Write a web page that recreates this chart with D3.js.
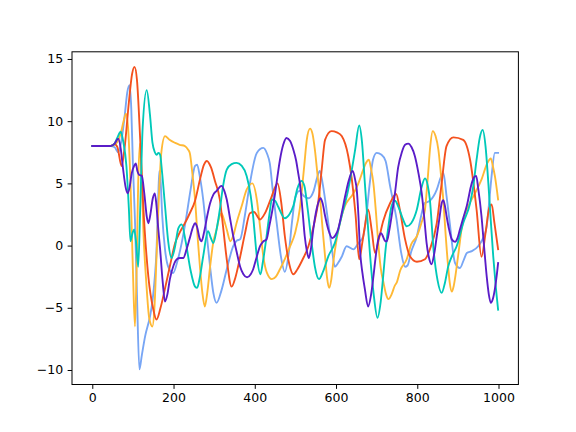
<!DOCTYPE html>
<html>
<head>
<meta charset="utf-8">
<script src="https://cdn.jsdelivr.net/npm/d3@7"></script>
<style>
  body { margin: 0; background: #fff; }
  svg { display: block; }
  .tick text { font-family: "DejaVu Sans", sans-serif; font-size: 12.5px; fill: #000; }
</style>
</head>
<body>
<div id="chart"></div>
<script>
// series, [x, y] pairs
const redSeries = [[0,8],[45,8],[55,8.15],[62,7.9],[72,6.4],[80,8],[90,11.5],[98,13.8],[104,14.36],[110,13.3],[118,8.5],[125,3.5],[138,-2.5],[150,-5.1],[158,-5.95],[168,-5.0],[180,-3.3],[192,-1.5],[204,0.2],[216,1.1],[228,1.8],[240,2.6],[253,3.6],[265,5.3],[275,6.5],[282,6.8],[292,6.3],[302,5.2],[314,3.7],[322,1.5],[331,-1.1],[343,-3.3],[352,-2.6],[364,-0.9],[376,1.0],[388,2.6],[398,2.7],[413,2.1],[425,2.6],[440,3.8],[456,5.0],[465,3.5],[474,0.75],[485,-1.5],[495,-2.3],[505,-1.9],[518,-1.1],[532,-0.05],[545,1.6],[557,3.7],[565,6.2],[573,8.5],[589,9.2],[602,9.1],[614,8.8],[630,7.2],[639,5.3],[648,2.5],[657,-1.1],[665,0.3],[671,1.55],[679,2.9],[688,1.2],[696,-0.6],[706,0.6],[716,1.95],[733,3.4],[748,4.15],[757,2.9],[770,0.5],[782,-0.86],[799,-1.3],[819,-1.1],[831,-0.3],[848,1.8],[860,5],[872,8],[889,8.7],[913,8.5],[930,6.9],[946,2.9],[958,-0.9],[968,1.0],[977,3.0],[983,3.3],[990,1.8],[999,-0.3]];

const tealSeries = [[0,8],[45,8],[55,8.2],[62,8.7],[70,9.15],[76,8.4],[84,6.4],[90,3.0],[94,0.35],[99,1.0],[103,1.3],[108,0.2],[113,-1.7],[118,3],[124,9.5],[134,12.5],[142,10.5],[148,8.3],[154,7.5],[158,7.3],[163,7.45],[167,7.3],[172,5.8],[179,3.2],[187,0.3],[195,-1.0],[203,-0.2],[212,1.4],[220,1.7],[230,0.3],[242,-2],[253,-3.3],[258,-3.4],[265,-2.5],[273,-0.86],[285,1.15],[292,0.6],[298,0.2],[306,1.3],[314,2.9],[322,4.8],[331,6.1],[343,6.55],[355,6.65],[368,6.4],[380,5.6],[390,4.0],[396,2.35],[405,-0.86],[414,-2.3],[420,-1.3],[429,0.75],[436,2.5],[442,3.7],[450,3.6],[458,3.1],[474,2.2],[485,2.5],[495,3.2],[505,4.6],[515,5.2],[522,4.8],[530,3.0],[540,0.2],[548,-1.7],[558,-2.7],[568,-2.1],[581,-0.86],[597,0.2],[614,2.4],[630,4.5],[640,6.3],[647,7.7],[657,9.65],[664,8.3],[671,5.0],[678,1.8],[684,-0.86],[693,-4],[702,-5.8],[710,-4.5],[716,-2.5],[722,-0.3],[729,1.55],[737,3.2],[745,3.6],[755,3.0],[765,2.1],[774,1.55],[785,1.8],[799,2.9],[810,4.6],[819,5.4],[826,4.8],[831,3.7],[840,-0.3],[850,-2.8],[860,-3.8],[868,-3.0],[876,-1.7],[886,-0.8],[897,-0.05],[913,1.8],[930,3.4],[938,4.8],[946,6.9],[954,8.7],[961,9.3],[968,8.0],[975,5.0],[981,2.0],[987,-0.86],[993,-3.2],[999,-5.15]];

const yellowSeries = [[0,8],[45,8],[55,8.1],[63,8.4],[70,9.0],[77,10.0],[83,10.6],[88,9.5],[94,5],[100,-2],[105,-6.5],[109,-2],[113,5],[117,8.2],[121,6],[126,1],[133,-3],[140,-5.8],[148,-6.5],[153,-5],[158,-1],[164,4],[170,7.5],[179,8.8],[190,8.5],[204,8.25],[215,8.1],[228,8.0],[236,7.7],[240,7.45],[247,5.6],[253,3.7],[259,0.8],[265,-1.7],[271,-3.8],[277,-4.9],[283,-3.8],[290,-1.7],[298,0.3],[306,1.3],[312,2.2],[318,2.6],[324,2.1],[331,1.3],[340,0.35],[348,0.9],[355,1.8],[368,3.2],[380,4.5],[394,5.0],[405,3.7],[413,1.5],[421,-0.86],[430,-2.2],[442,-2.7],[452,-2.5],[462,-1.9],[475,-1.0],[487,-0.05],[499,1.0],[511,3.0],[516,4.5],[522,6.5],[528,8.5],[536,9.4],[542,9.0],[548,7.7],[555,5.5],[561,3.7],[567,1.3],[573,-0.86],[578,-2.6],[583,-3.4],[588,-2.8],[593,-1.4],[600,0.2],[606,1.3],[614,2.4],[622,3.2],[634,3.8],[639,4.0],[655,5.0],[667,6.1],[673,6.6],[681,6.9],[686,6.2],[692,5.0],[698,2.8],[704,0.2],[710,-1.8],[717,-3.0],[723,-3.9],[729,-4.3],[737,-3.9],[745,-3.2],[749,-3.0],[758,-2.0],[774,-1.1],[785,0.1],[799,0.75],[810,1.8],[819,2.9],[826,5.5],[832,8.0],[838,9.2],[845,8.8],[852,7.7],[858,5.8],[864,3.7],[870,0.8],[876,-1.7],[880,-3.0],[885,-3.7],[890,-3.2],[897,-1.7],[903,-0.2],[909,1.3],[917,2.5],[926,3.2],[942,4.2],[958,5.3],[972,6.6],[981,7.0],[986,6.4],[991,5.6],[999,3.7]];

const blueSeries = [[0,8],[45,8],[55,7.9],[64,7.5],[72,8.5],[80,10.5],[86,12.3],[92,12.9],[96,11],[100,6.5],[105,2.1],[110,-4],[116,-9.95],[122,-8.8],[130,-7.3],[142,-5.7],[148,-4.5],[154,-2.5],[158,-0.5],[162,3.5],[165,6.0],[168,5.3],[172,2.5],[179,-0.3],[188,-1.8],[199,-2.2],[210,-1.2],[220,0.2],[230,2.0],[242,4.5],[253,6.4],[258,6.5],[265,5.5],[273,3.7],[282,0.8],[290,-1.7],[298,-3.8],[306,-4.6],[318,-3.6],[331,-1.9],[347,-0.05],[356,0.4],[364,0.5],[376,2.5],[388,5.0],[405,7.45],[421,7.85],[430,7.4],[437,6.6],[445,4.2],[454,1.8],[464,-0.8],[474,-2.1],[484,-0.5],[492,2.0],[500,3.9],[510,4.4],[520,4.0],[532,3.8],[545,4.4],[553,5.4],[560,6.0],[567,5.0],[574,3.5],[581,1.8],[590,-0.3],[597,-1.7],[605,-1.4],[614,-0.9],[626,-0.05],[643,-0.3],[655,0.2],[667,0.75],[675,2.5],[683,5.0],[691,6.9],[700,7.45],[712,7.3],[722,6.8],[733,4.8],[749,2.1],[760,-0.5],[770,-1.7],[776,-1.6],[785,-0.5],[799,0.75],[811,2.6],[818,3.4],[831,3.6],[848,4.5],[858,5.5],[864,5.85],[872,4.0],[880,1.8],[893,-1.4],[905,-1.8],[915,-1.1],[922,-0.6],[934,-0.45],[950,-0.05],[962,0.6],[971,1.55],[977,3.5],[983,5.6],[991,7.45],[999,7.45]];

const purpleSeries = [[0,8],[45,8],[55,8.2],[64,8.6],[70,7.8],[76,6.1],[82,4.7],[87,4.2],[92,4.7],[97,5.8],[103,6.4],[107,6.6],[111,6.0],[115,5.7],[119,5.65],[122,5.6],[128,4.2],[134,2.35],[138,1.8],[143,2.5],[149,3.8],[154,4.2],[158,3.2],[162,1.5],[167,-0.3],[173,-2.8],[179,-4.5],[185,-3.9],[191,-2.7],[200,-1.6],[208,-1.1],[216,-1.0],[224,-1.0],[232,-0.3],[240,0.6],[248,1.5],[253,1.8],[258,1.5],[264,0.6],[269,0.35],[276,1.2],[283,2.4],[290,3.4],[298,4.1],[306,4.4],[318,4.8],[325,4.4],[331,3.7],[339,2.2],[347,0.75],[356,-0.6],[364,-1.7],[372,-2.3],[381,-2.55],[390,-2.3],[396,-1.9],[404,-1.0],[413,-0.05],[420,0.3],[429,0.5],[436,1.6],[443,2.8],[450,4.2],[456,5.6],[462,6.9],[470,8.1],[478,8.65],[487,8.4],[495,7.7],[502,6.8],[507,5.8],[511,5.0],[517,3.0],[523,0.75],[528,-0.4],[533,-1.0],[538,-0.3],[544,1.3],[552,2.9],[557,3.5],[562,3.8],[567,3.4],[573,2.4],[581,1.3],[591,0.6],[598,0.8],[605,1.3],[614,2.6],[622,3.9],[631,5.2],[641,6.0],[647,5.3],[651,4.5],[655,2.5],[659,-0.3],[665,-2.2],[671,-3.5],[679,-4.9],[686,-4.0],[692,-2.5],[698,-0.8],[704,0.5],[708,0.9],[711,1.0],[716,0.7],[721,0.35],[725,0.35],[731,1.2],[737,2.4],[745,4.2],[753,6.3],[762,7.5],[770,8.1],[778,8.2],[786,7.9],[794,7.2],[803,5.8],[811,4.2],[817,2.3],[823,0.2],[829,-1.0],[835,-1.5],[842,-0.6],[848,0.75],[855,2.3],[860,3.4],[864,3.65],[868,3.2],[872,2.4],[879,1.2],[885,0.5],[893,0.3],[899,0.6],[905,1.3],[913,2.2],[922,3.2],[934,5.0],[940,5.5],[945,5.6],[950,4.6],[958,2.4],[964,0.1],[971,-2.5],[976,-3.9],[981,-4.6],[986,-4.3],[991,-3.5],[996,-2.3],[999,-1.4]];

const xTicks = [0, 200, 400, 600, 800, 1000];
const yTicks = [-10, -5, 0, 5, 10, 15];

// drawing order, last one on top
const series = [
  { data: blueSeries, color: "#78a6f5" },
  { data: yellowSeries, color: "#ffb935" },
  { data: redSeries, color: "#f4511e" },
  { data: tealSeries, color: "#00c9b9" },
  { data: purpleSeries, color: "#5a1cc8" }
];

const width = 576, height = 432;
const margin = { top: 51.8, right: 57.6, bottom: 47.5, left: 72 };
const tick = 4.375; // 3.5pt at 90 dpi

const svg = d3.select("#chart").append("svg")
  .attr("width", width)
  .attr("height", height);

svg.append("rect").attr("width", width).attr("height", height).attr("fill", "#fff");

// matplotlib style 5% padding on the data range
const allPts = series.flatMap(s => s.data);
const xExt = d3.extent(allPts, d => d[0]);
const yExt = d3.extent(allPts, d => d[1]);
const xPad = (xExt[1] - xExt[0]) * 0.05;
const yPad = (yExt[1] - yExt[0]) * 0.05;

const x = d3.scaleLinear()
  .domain([xExt[0] - xPad, xExt[1] + xPad])
  .range([margin.left, width - margin.right]);

const y = d3.scaleLinear()
  .domain([yExt[0] - yPad, yExt[1] + yPad])
  .range([height - margin.bottom, margin.top]);

svg.append("defs").append("clipPath").attr("id", "clip")
  .append("rect")
  .attr("x", margin.left).attr("y", margin.top)
  .attr("width", width - margin.left - margin.right)
  .attr("height", height - margin.top - margin.bottom);

const line = d3.line()
  .x(d => x(d[0]))
  .y(d => y(d[1]))
  .curve(d3.curveMonotoneX);

svg.append("g").attr("clip-path", "url(#clip)")
  .selectAll("path")
  .data(series)
  .enter()
  .append("path")
  .attr("d", d => line(d.data))
  .attr("fill", "none")
  .attr("stroke", d => d.color)
  .attr("stroke-width", 1.875)
  .attr("stroke-linejoin", "round")
  .attr("stroke-linecap", "square");

// axes
const xAxis = svg.append("g")
  .attr("transform", "translate(0," + (height - margin.bottom) + ")")
  .call(d3.axisBottom(x).tickValues(xTicks).tickFormat(d3.format("d"))
    .tickSize(tick).tickPadding(tick).tickSizeOuter(0));

const yAxis = svg.append("g")
  .attr("transform", "translate(" + margin.left + ",0)")
  .call(d3.axisLeft(y).tickValues(yTicks).tickFormat(d3.format("d"))
    .tickSize(tick).tickPadding(tick).tickSizeOuter(0));

[xAxis, yAxis].forEach(g => {
  g.select(".domain").remove();
  g.selectAll(".tick line").attr("stroke", "#000").attr("stroke-width", 1);
});

// frame
svg.append("rect")
  .attr("x", margin.left).attr("y", margin.top)
  .attr("width", width - margin.left - margin.right)
  .attr("height", height - margin.top - margin.bottom)
  .attr("fill", "none")
  .attr("stroke", "#000")
  .attr("stroke-width", 1);
</script>
</body>
</html>
